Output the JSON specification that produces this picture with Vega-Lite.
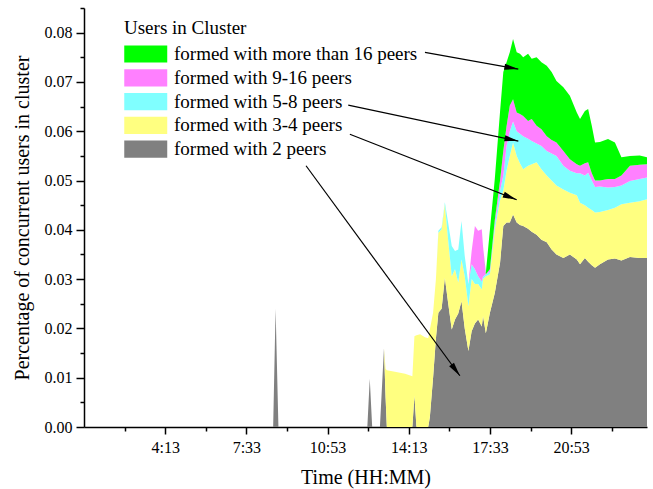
{
  "$schema": "https://vega.github.io/schema/vega-lite/v6.json",
  "width": 563,
  "height": 419,
  "autosize": {"type": "none"},
  "padding": {"left": 84, "top": 8, "right": 6, "bottom": 62},
  "config": {
    "view": {"stroke": null},
    "font": "Liberation Serif",
    "axis": {
      "domainColor": "black", "domainWidth": 1.5, "tickColor": "black", "tickWidth": 1.5,
      "labelColor": "black", "titleColor": "black", "labelFont": "Liberation Serif", "titleFont": "Liberation Serif",
      "labelFontSize": 16, "titleFontSize": 20, "titleFontWeight": "normal", "grid": false
    }
  },
  "datasets": {
    "shares": [
      {"t": 53, "2": 0, "3-4": 0, "5-8": 0, "9-16": 0, ">16": 0},
      {"t": 519, "2": 0, "3-4": 0, "5-8": 0, "9-16": 0, ">16": 0},
      {"t": 525, "2": 0.024, "3-4": 0, "5-8": 0, "9-16": 0, ">16": 0},
      {"t": 532, "2": 0, "3-4": 0, "5-8": 0, "9-16": 0, ">16": 0},
      {"t": 751, "2": 0, "3-4": 0, "5-8": 0, "9-16": 0, ">16": 0},
      {"t": 757, "2": 0.0098, "3-4": 0, "5-8": 0, "9-16": 0, ">16": 0},
      {"t": 763, "2": 0, "3-4": 0, "5-8": 0, "9-16": 0, ">16": 0},
      {"t": 782, "2": 0, "3-4": 0, "5-8": 0, "9-16": 0, ">16": 0},
      {"t": 792, "2": 0.016, "3-4": 0, "5-8": 0, "9-16": 0, ">16": 0},
      {"t": 796, "2": 0.006, "3-4": 0.0058, "5-8": 0, "9-16": 0, ">16": 0},
      {"t": 799, "2": 0, "3-4": 0.0115, "5-8": 0, "9-16": 0, ">16": 0},
      {"t": 819, "2": 0, "3-4": 0.0112, "5-8": 0, "9-16": 0, ">16": 0},
      {"t": 844, "2": 0, "3-4": 0.0108, "5-8": 0, "9-16": 0, ">16": 0},
      {"t": 862, "2": 0, "3-4": 0.0103, "5-8": 0, "9-16": 0, ">16": 0},
      {"t": 867, "2": 0.0064, "3-4": 0.012, "5-8": 0, "9-16": 0, ">16": 0},
      {"t": 872, "2": 0, "3-4": 0.0186, "5-8": 0, "9-16": 0, ">16": 0},
      {"t": 881, "2": 0, "3-4": 0.0188, "5-8": 0, "9-16": 0, ">16": 0},
      {"t": 893, "2": 0, "3-4": 0.0182, "5-8": 0, "9-16": 0, ">16": 0},
      {"t": 901, "2": 0, "3-4": 0.018, "5-8": 0, "9-16": 0, ">16": 0},
      {"t": 905, "2": 0.002, "3-4": 0.0178, "5-8": 0, "9-16": 0, ">16": 0},
      {"t": 913, "2": 0.01, "3-4": 0.0132, "5-8": 0, "9-16": 0, ">16": 0},
      {"t": 920, "2": 0.018, "3-4": 0.012, "5-8": 0, "9-16": 0, ">16": 0},
      {"t": 926, "2": 0.0232, "3-4": 0.0162, "5-8": 0.0004, "9-16": 0, ">16": 0},
      {"t": 934, "2": 0.024, "3-4": 0.0161, "5-8": 0.0004, "9-16": 0, ">16": 0},
      {"t": 942, "2": 0.0303, "3-4": 0.0149, "5-8": 0.0004, "9-16": 0, ">16": 0},
      {"t": 950, "2": 0.0252, "3-4": 0.0128, "5-8": 0.0035, "9-16": 0, ">16": 0},
      {"t": 959, "2": 0.0198, "3-4": 0.0108, "5-8": 0.0061, "9-16": 0, ">16": 0},
      {"t": 967, "2": 0.0218, "3-4": 0.0102, "5-8": 0.0037, "9-16": 0, ">16": 0},
      {"t": 975, "2": 0.023, "3-4": 0.0063, "5-8": 0.0067, "9-16": 0, ">16": 0},
      {"t": 983, "2": 0.0255, "3-4": 0.0085, "5-8": 0.0078, "9-16": 0, ">16": 0},
      {"t": 991, "2": 0.02, "3-4": 0.0106, "5-8": 0.0041, "9-16": 0, ">16": 0},
      {"t": 1000, "2": 0.0154, "3-4": 0.0091, "5-8": 0.0045, "9-16": 0, ">16": 0},
      {"t": 1008, "2": 0.0194, "3-4": 0.0106, "5-8": 0.003, "9-16": 0.0027, ">16": 0},
      {"t": 1016, "2": 0.021, "3-4": 0.008, "5-8": 0.003, "9-16": 0.0088, ">16": 0},
      {"t": 1024, "2": 0.0218, "3-4": 0.0072, "5-8": 0.0016, "9-16": 0.0092, ">16": 0},
      {"t": 1033, "2": 0.0204, "3-4": 0.0075, "5-8": 0.0016, "9-16": 0.0106, ">16": 0},
      {"t": 1036, "2": 0.0225, "3-4": 0.0075, "5-8": 0.0005, "9-16": 0.0062, ">16": 0},
      {"t": 1043, "2": 0.019, "3-4": 0.0116, "5-8": 0.0004, "9-16": 0, ">16": 0.0003},
      {"t": 1053, "2": 0.0232, "3-4": 0.0078, "5-8": 0.0005, "9-16": 0.0005, ">16": 0.008},
      {"t": 1065, "2": 0.0272, "3-4": 0.0128, "5-8": 0.001, "9-16": 0.001, ">16": 0.0083},
      {"t": 1078, "2": 0.0333, "3-4": 0.0127, "5-8": 0.002, "9-16": 0.002, ">16": 0.014},
      {"t": 1086, "2": 0.0408, "3-4": 0.0072, "5-8": 0.003, "9-16": 0.005, ">16": 0.016},
      {"t": 1094, "2": 0.0415, "3-4": 0.0105, "5-8": 0.005, "9-16": 0.004, ">16": 0.013},
      {"t": 1102, "2": 0.0415, "3-4": 0.0135, "5-8": 0.005, "9-16": 0.0052, ">16": 0.0108},
      {"t": 1110, "2": 0.0431, "3-4": 0.0146, "5-8": 0.0043, "9-16": 0.0045, ">16": 0.0122},
      {"t": 1119, "2": 0.0415, "3-4": 0.0135, "5-8": 0.005, "9-16": 0.0038, ">16": 0.0122},
      {"t": 1127, "2": 0.041, "3-4": 0.0125, "5-8": 0.006, "9-16": 0.004, ">16": 0.0122},
      {"t": 1135, "2": 0.0408, "3-4": 0.0115, "5-8": 0.0067, "9-16": 0.0041, ">16": 0.0119},
      {"t": 1147, "2": 0.0402, "3-4": 0.0128, "5-8": 0.0055, "9-16": 0.0036, ">16": 0.0136},
      {"t": 1156, "2": 0.0396, "3-4": 0.0137, "5-8": 0.0047, "9-16": 0.0045, ">16": 0.0122},
      {"t": 1168, "2": 0.039, "3-4": 0.0147, "5-8": 0.0038, "9-16": 0.0036, ">16": 0.0139},
      {"t": 1180, "2": 0.038, "3-4": 0.0143, "5-8": 0.0047, "9-16": 0.0034, ">16": 0.0136},
      {"t": 1193, "2": 0.0375, "3-4": 0.0135, "5-8": 0.005, "9-16": 0.003, ">16": 0.0143},
      {"t": 1205, "2": 0.036, "3-4": 0.014, "5-8": 0.0055, "9-16": 0.0027, ">16": 0.0138},
      {"t": 1217, "2": 0.035, "3-4": 0.014, "5-8": 0.006, "9-16": 0.0027, ">16": 0.0125},
      {"t": 1234, "2": 0.0343, "3-4": 0.0139, "5-8": 0.0048, "9-16": 0.003, ">16": 0.0129},
      {"t": 1250, "2": 0.035, "3-4": 0.0125, "5-8": 0.0045, "9-16": 0.0023, ">16": 0.0129},
      {"t": 1267, "2": 0.034, "3-4": 0.013, "5-8": 0.0045, "9-16": 0.0018, ">16": 0.0105},
      {"t": 1275, "2": 0.033, "3-4": 0.0125, "5-8": 0.006, "9-16": 0.0015, ">16": 0.0095},
      {"t": 1287, "2": 0.0343, "3-4": 0.0107, "5-8": 0.006, "9-16": 0.0025, ">16": 0.0106},
      {"t": 1295, "2": 0.0335, "3-4": 0.011, "5-8": 0.0071, "9-16": 0.0021, ">16": 0.0108},
      {"t": 1304, "2": 0.0328, "3-4": 0.0112, "5-8": 0.006, "9-16": 0.0015, ">16": 0.0096},
      {"t": 1312, "2": 0.0323, "3-4": 0.0112, "5-8": 0.0052, "9-16": 0.0013, ">16": 0.0077},
      {"t": 1324, "2": 0.033, "3-4": 0.0106, "5-8": 0.0052, "9-16": 0.0012, ">16": 0.0078},
      {"t": 1344, "2": 0.034, "3-4": 0.01, "5-8": 0.0046, "9-16": 0.0017, ">16": 0.0081},
      {"t": 1361, "2": 0.0342, "3-4": 0.0103, "5-8": 0.0042, "9-16": 0.0016, ">16": 0.0074},
      {"t": 1377, "2": 0.0338, "3-4": 0.0114, "5-8": 0.0038, "9-16": 0.002, ">16": 0.0037},
      {"t": 1398, "2": 0.0345, "3-4": 0.011, "5-8": 0.0044, "9-16": 0.0031, ">16": 0.002},
      {"t": 1422, "2": 0.0343, "3-4": 0.0115, "5-8": 0.0045, "9-16": 0.0029, ">16": 0.0019},
      {"t": 1440, "2": 0.0343, "3-4": 0.0119, "5-8": 0.0044, "9-16": 0.0027, ">16": 0.0014}
    ],
    "arrows": [
      {"label": ">16", "t1": 893, "v1": 0.076, "t2": 1123, "v2": 0.0726},
      {"label": "5-8", "t1": 704, "v1": 0.0653, "t2": 1123, "v2": 0.058},
      {"label": "3-4", "t1": 708, "v1": 0.0594, "t2": 1119, "v2": 0.0461},
      {"label": "2", "t1": 600, "v1": 0.053, "t2": 979, "v2": 0.0104}
    ]
  },
  "layer": [
    {
      "data": {"name": "shares"},
      "transform": [{"fold": ["2", "3-4", "5-8", "9-16", ">16"], "as": ["peers", "share"]}],
      "mark": {"type": "area", "opacity": 1, "interpolate": "linear"},
      "encoding": {
        "x": {
          "field": "t", "type": "quantitative",
          "scale": {"domain": [53, 1440], "nice": false, "zero": false},
          "axis": {
            "orient": "bottom",
            "values": [253, 453, 653, 853, 1053, 1253],
            "labelExpr": "floor(datum.value / 60) + ':' + (datum.value % 60 < 10 ? '0' : '') + (datum.value % 60)",
            "labelFont": "Liberation Serif", "titleFont": "Liberation Serif",
            "title": "Time (HH:MM)", "tickSize": 7, "labelPadding": 5, "titlePadding": 12
          }
        },
        "y": {
          "field": "share", "type": "quantitative", "stack": "zero",
          "scale": {"domain": [0, 0.085], "nice": false},
          "axis": {
            "orient": "left",
            "values": [0, 0.01, 0.02, 0.03, 0.04, 0.05, 0.06, 0.07, 0.08],
            "labelFont": "Liberation Serif", "titleFont": "Liberation Serif",
            "format": ".2f", "title": "Percentage of concurrent users in cluster",
            "tickSize": 8, "labelPadding": 4, "titlePadding": 12
          }
        },
        "color": {
          "field": "peers", "type": "nominal",
          "scale": {"domain": [">16", "9-16", "5-8", "3-4", "2"], "range": ["#00ff00", "#ff80ff", "#80ffff", "#ffff80", "#808080"]},
          "legend": {
            "orient": "none", "legendX": 40, "legendY": 11, "padding": 0,
            "title": "Users in Cluster",
            "titleFont": "Liberation Serif", "titleFontSize": 19, "titleFontWeight": "normal", "titleColor": "black", "titlePadding": 5,
            "labelFont": "Liberation Serif", "labelFontSize": 19, "labelColor": "black", "labelLimit": 400,
            "labelExpr": "'formed with ' + (datum.label == '>16' ? 'more than 16' : datum.label) + ' peers'",
            "symbolType": "M-1,-0.8H3V0.8H-1Z", "symbolSize": 462, "symbolStrokeWidth": 0, "symbolOpacity": 1,
            "labelOffset": 28, "rowPadding": 2.8
          }
        },
        "order": {"field": "peers", "sort": "ascending"}
      }
    },
    {
      "data": {"name": "arrows"},
      "mark": {"type": "rule", "color": "black", "strokeWidth": 1.2},
      "encoding": {
        "x": {
          "field": "t1", "type": "quantitative",
          "axis": {"orient": "bottom", "values": [153, 353, 553, 753, 953, 1153, 1353], "labels": false, "domain": false, "tickSize": 4, "title": null}
        },
        "y": {
          "field": "v1", "type": "quantitative",
          "axis": {"orient": "left", "values": [0.005, 0.015, 0.025, 0.035, 0.045, 0.055, 0.065, 0.075, 0.085], "labels": false, "domain": false, "tickSize": 4, "title": null}
        },
        "x2": {"field": "t2"},
        "y2": {"field": "v2"}
      }
    },
    {
      "data": {"name": "arrows"},
      "transform": [{"filter": "datum.label == '>16'"}],
      "mark": {"type": "point", "shape": "M0,0L0.43,2L-0.43,2Z", "filled": true, "color": "black", "opacity": 1, "size": 196, "angle": 100},
      "encoding": {"x": {"field": "t2", "type": "quantitative", "axis": null}, "y": {"field": "v2", "type": "quantitative", "axis": null}}
    },
    {
      "data": {"name": "arrows"},
      "transform": [{"filter": "datum.label == '5-8'"}],
      "mark": {"type": "point", "shape": "M0,0L0.43,2L-0.43,2Z", "filled": true, "color": "black", "opacity": 1, "size": 196, "angle": 102},
      "encoding": {"x": {"field": "t2", "type": "quantitative", "axis": null}, "y": {"field": "v2", "type": "quantitative", "axis": null}}
    },
    {
      "data": {"name": "arrows"},
      "transform": [{"filter": "datum.label == '3-4'"}],
      "mark": {"type": "point", "shape": "M0,0L0.43,2L-0.43,2Z", "filled": true, "color": "black", "opacity": 1, "size": 196, "angle": 111.5},
      "encoding": {"x": {"field": "t2", "type": "quantitative", "axis": null}, "y": {"field": "v2", "type": "quantitative", "axis": null}}
    },
    {
      "data": {"name": "arrows"},
      "transform": [{"filter": "datum.label == '2'"}],
      "mark": {"type": "point", "shape": "M0,0L0.43,2L-0.43,2Z", "filled": true, "color": "black", "opacity": 1, "size": 196, "angle": 143.5},
      "encoding": {"x": {"field": "t2", "type": "quantitative", "axis": null}, "y": {"field": "v2", "type": "quantitative", "axis": null}}
    }
  ],
  "resolve": {"axis": {"x": "independent", "y": "independent"}}
}
